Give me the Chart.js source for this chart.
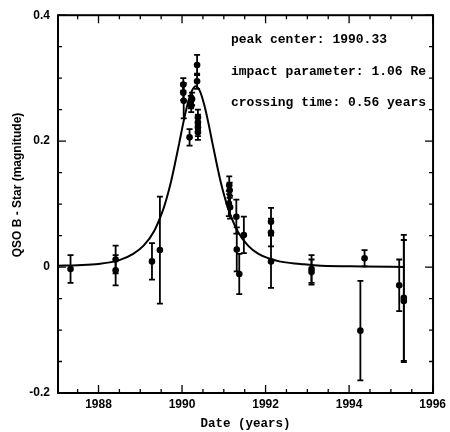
<!DOCTYPE html>
<html>
<head>
<meta charset="utf-8">
<script src="https://cdn.jsdelivr.net/npm/chart.js@4.4.1/dist/chart.umd.min.js"></script>
<style>
  html, body { margin: 0; padding: 0; background: #fff; }
  #wrap { width: 450px; height: 432px; }
</style>
</head>
<body>
<div id="wrap"><canvas id="c"></canvas></div>
<script>
// observations: date, magnitude difference, 1-sigma error
const dates = [1987.33, 1988.41, 1988.41, 1989.28, 1989.47, 1990.03, 1990.03, 1990.04, 1990.18, 1990.21, 1990.22, 1990.24,
  1990.36, 1990.36, 1990.38, 1990.38, 1990.38, 1990.38, 1991.12, 1991.13, 1991.14, 1991.15, 1991.30, 1991.31,
  1991.37, 1991.48, 1992.13, 1992.13, 1992.13, 1993.10, 1993.10, 1994.27, 1994.37, 1995.20, 1995.31, 1995.31];
const mags = [-0.003, 0.012, -0.005, 0.009, 0.027, 0.290, 0.277, 0.264, 0.206, 0.262, 0.256, 0.267,
  0.321, 0.295, 0.238, 0.230, 0.222, 0.214, 0.101, 0.130, 0.122, 0.095, 0.080, 0.028,
  -0.011, 0.051, 0.072, 0.055, 0.009, -0.003, -0.008, -0.101, 0.014, -0.029, -0.049, -0.054];
const errs = [0.022, 0.022, 0.024, 0.029, 0.085, 0.010, 0.012, 0.028, 0.013, 0.010, 0.010, 0.010,
  0.016, 0.012, 0.012, 0.012, 0.014, 0.012, 0.020, 0.014, 0.012, 0.018, 0.027, 0.035,
  0.032, 0.029, 0.022, 0.022, 0.042, 0.022, 0.020, 0.079, 0.013, 0.041, 0.100, 0.097];

// fitted light curve
const curveX = [1987.03, 1987.5, 1988.0, 1988.5, 1988.83, 1989.08, 1989.33, 1989.53, 1989.63, 1989.73, 1989.83, 1989.93,
  1990.03, 1990.13, 1990.23, 1990.33, 1990.43, 1990.53, 1990.63, 1990.73, 1990.83, 1990.93, 1991.03, 1991.13,
  1991.33, 1991.58, 1991.83, 1992.33, 1992.83, 1993.33, 1994.33, 1995.33];
const curveY = [0.002, 0.003, 0.005, 0.011, 0.021, 0.034, 0.057, 0.088, 0.109, 0.134, 0.164, 0.196,
  0.229, 0.258, 0.279, 0.287, 0.279, 0.258, 0.229, 0.196, 0.164, 0.134, 0.109, 0.088,
  0.057, 0.034, 0.021, 0.009, 0.005, 0.002, 0.001, 0.000];

const xTicks = [1988, 1990, 1992, 1994, 1996];
const yTicks = [-0.2, 0, 0.2, 0.4];
const notes = ['peak center: 1990.33', 'impact parameter: 1.06 Re', 'crossing time: 0.56 years'];
const yTitle = 'QSO B - Star (magnitude)';

const errorBars = {
  id: 'errorBars',
  afterDatasetsDraw(chart) {
    const { ctx, scales: { x, y } } = chart;
    ctx.save();
    ctx.strokeStyle = '#000';
    ctx.lineWidth = 1.8;
    dates.forEach((d, i) => {
      const px = x.getPixelForValue(d);
      const lo = y.getPixelForValue(mags[i] - errs[i]);
      const hi = y.getPixelForValue(mags[i] + errs[i]);
      ctx.beginPath();
      ctx.moveTo(px, lo); ctx.lineTo(px, hi);
      ctx.moveTo(px - 3, lo); ctx.lineTo(px + 3, lo);
      ctx.moveTo(px - 3, hi); ctx.lineTo(px + 3, hi);
      ctx.stroke();
    });
    ctx.restore();
  }
};

// frame with inward ticks on all four sides, plus the text
const frame = {
  id: 'frame',
  afterDraw(chart) {
    const { ctx, chartArea: a, scales: { x, y } } = chart;
    ctx.save();
    ctx.strokeStyle = '#000';
    ctx.lineWidth = 2;
    ctx.strokeRect(a.left, a.top, a.right - a.left, a.bottom - a.top);
    ctx.lineWidth = 1.3;
    ctx.beginPath();
    for (let k = 0; k <= 18; k++) {
      const v = 1987 + k * 0.5;
      if (v < x.min || v > x.max) continue;
      const px = x.getPixelForValue(v);
      const len = xTicks.includes(v) ? 8 : 4;
      ctx.moveTo(px, a.bottom); ctx.lineTo(px, a.bottom - len);
      ctx.moveTo(px, a.top); ctx.lineTo(px, a.top + len);
    }
    for (let k = 0; k <= 12; k++) {
      const v = Math.round((-0.2 + k * 0.05) * 100) / 100;
      const py = y.getPixelForValue(v);
      const len = yTicks.includes(v) ? 8 : 4;
      ctx.moveTo(a.left, py); ctx.lineTo(a.left + len, py);
      ctx.moveTo(a.right, py); ctx.lineTo(a.right - len, py);
    }
    ctx.stroke();

    ctx.fillStyle = '#000';
    ctx.font = 'bold 13px "Liberation Mono"';
    ctx.textBaseline = 'middle';
    ctx.textAlign = 'left';
    notes.forEach((t, i) => ctx.fillText(t, 231, 40 + i * 31.6));

    ctx.translate(18, 185);
    ctx.rotate(-Math.PI / 2);
    ctx.textAlign = 'center';
    ctx.font = 'bold 12px "Liberation Sans"';
    ctx.fillText(yTitle, 0, 0);
    ctx.restore();
  }
};

new Chart(document.getElementById('c'), {
  type: 'scatter',
  data: {
    datasets: [
      {
        label: 'fit', data: curveX.map((d, i) => ({ x: d, y: curveY[i] })),
        showLine: true, pointRadius: 0, borderColor: '#000', borderWidth: 2,
        cubicInterpolationMode: 'monotone', fill: false
      },
      {
        label: 'data', data: dates.map((d, i) => ({ x: d, y: mags[i] })),
        pointRadius: 3.3, pointBackgroundColor: '#000', pointBorderWidth: 0
      }
    ]
  },
  options: {
    responsive: true, maintainAspectRatio: false, animation: false,
    layout: { padding: { left: 0, right: 13, top: 12, bottom: 0 } },
    plugins: { legend: { display: false }, tooltip: { enabled: false } },
    scales: {
      x: {
        type: 'linear', min: 1987.03, max: 1996.01,
        afterBuildTicks: s => { s.ticks = xTicks.map(v => ({ value: v })); },
        afterFit: s => { s.height = 39; },
        grid: { display: false, drawTicks: false }, border: { display: false },
        ticks: { color: '#000', padding: 4, font: { family: 'Liberation Sans', weight: 'bold', size: 12 }, callback: v => String(v) },
        title: { display: true, text: 'Date (years)', color: '#000', padding: { top: 0, bottom: 1 },
          font: { family: 'Liberation Mono', weight: 'bold', size: 12.5 } }
      },
      y: {
        min: -0.2, max: 0.4,
        afterBuildTicks: s => { s.ticks = yTicks.map(v => ({ value: v })); },
        afterFit: s => { s.width = 58; },
        grid: { display: false, drawTicks: false }, border: { display: false },
        ticks: { color: '#000', padding: 8, font: { family: 'Liberation Sans', weight: 'bold', size: 12 },
          callback: v => (Math.abs(v) < 1e-9 ? '0' : v.toFixed(1)) },
        title: { display: false }
      }
    }
  },
  plugins: [errorBars, frame]
});
</script>
</body>
</html>
